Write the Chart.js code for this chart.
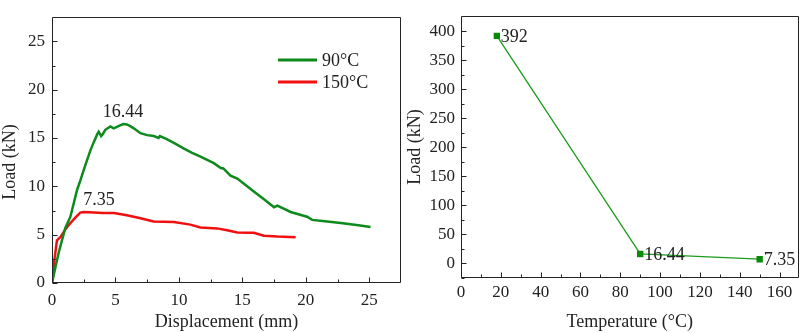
<!DOCTYPE html>
<html>
<head>
<meta charset="utf-8">
<script src="https://cdn.jsdelivr.net/npm/chart.js@4"></script>
<style>
  body { margin: 0; background: #fff; }
  #wrap { position: relative; width: 803px; height: 333px; }
  canvas { position: absolute; top: 0; }
</style>
</head>
<body>
<div id="wrap">
  <canvas id="loadDisp" width="403" height="333" style="left:0"></canvas>
  <canvas id="loadTemp" width="403" height="333" style="left:400px"></canvas>
</div>
<script>
// left panel: load vs displacement curves
const disp90 = [0, 0.3, 0.52, 1.05, 1.45, 1.97, 2.23, 2.6, 3.02, 3.3, 3.55, 3.68, 3.87, 4.0, 4.2, 4.6, 4.86, 5.2, 5.6, 5.9, 6.2, 6.44, 6.97, 7.5, 8.02, 8.4, 8.5, 9.0, 9.6, 10.4, 11.0, 11.7, 12.75, 13.3, 13.5, 14.07, 14.6, 15.1, 15.9, 16.7, 17.5, 17.76, 18.8, 20.1, 20.5, 21.5, 22.75, 24.0, 25.1];
const load90 = [0, 1.8, 3.1, 5.7, 6.86, 9.6, 10.6, 12.1, 13.7, 14.6, 15.35, 15.65, 15.2, 15.4, 15.85, 16.2, 16.0, 16.2, 16.44, 16.4, 16.2, 16.0, 15.5, 15.3, 15.2, 15.0, 15.2, 14.9, 14.5, 13.9, 13.5, 13.07, 12.4, 11.9, 11.85, 11.1, 10.8, 10.3, 9.47, 8.66, 7.84, 8.0, 7.35, 6.86, 6.53, 6.4, 6.2, 6.0, 5.8];

const disp150 = [0, 0.1, 0.2, 0.39, 0.66, 1.05, 1.45, 1.84, 2.23, 2.5, 3.3, 4.0, 4.87, 5.9, 6.97, 8.0, 9.6, 10.9, 11.7, 13.0, 13.8, 14.6, 15.4, 15.9, 16.7, 17.76, 19.2];
const load150 = [0, 1.2, 2.5, 4.4, 4.74, 5.55, 6.2, 6.76, 7.28, 7.35, 7.3, 7.25, 7.25, 7.0, 6.7, 6.37, 6.3, 6.04, 5.75, 5.65, 5.45, 5.22, 5.2, 5.2, 4.9, 4.8, 4.74];

const peakText = ['16.44', '7.35'];
const peakValue = [16.44, 7.35];
const peakLabelX = [5.6, 3.7];

const dispTicks = [0, 5, 10, 15, 20, 25];
const dispMinor = [2.5, 7.5, 12.5, 17.5, 22.5];
const loadTicks = [0, 5, 10, 15, 20, 25];
const loadMinor = [2.5, 7.5, 12.5, 17.5, 22.5];

// right panel: peak load vs temperature
const temps = [18, 90, 150];
const peakLoads = [392, 16.44, 7.35];
const tempTicks = [0, 20, 40, 60, 80, 100, 120, 140, 160];
const tempMinor = [10, 30, 50, 70, 90, 110, 130, 150];
const peakTicks = [0, 50, 100, 150, 200, 250, 300, 350, 400];
const peakMinor = [-25, 25, 75, 125, 175, 225, 275, 325, 375];

Chart.defaults.font.family = "'Liberation Serif', 'Times New Roman', serif";
Chart.defaults.color = '#222';

const tickFont = {size: 17};
const titleFont = {size: 18};

// box around the plot + inward tick marks
const frame = {
  id: 'frame',
  afterDatasetsDraw(chart, args, opts) {
    const {ctx, chartArea: a, scales} = chart;
    const L = Math.round(a.left) + 0.5, R = Math.round(a.right) - 0.5;
    const T = Math.round(a.top) + 0.5, B = Math.round(a.bottom) - 0.5;
    ctx.save();
    ctx.strokeStyle = '#222';
    ctx.lineWidth = 1;
    ctx.beginPath();
    ctx.rect(L, T, R - L, B - T);
    const xt = (v, len) => { const p = Math.round(scales.x.getPixelForValue(v)) + 0.5; ctx.moveTo(p, B); ctx.lineTo(p, B - len); };
    const yt = (v, len) => { const p = Math.round(scales.y.getPixelForValue(v)) + 0.5; ctx.moveTo(L, p); ctx.lineTo(L + len, p); };
    scales.x.ticks.forEach(t => xt(t.value, 5));
    scales.y.ticks.forEach(t => yt(t.value, 5));
    opts.xMinor.forEach(v => xt(v, 3));
    opts.yMinor.forEach(v => yt(v, 3));
    ctx.stroke();
    ctx.restore();
  }
};

// legend, peak labels and the y title of the left panel
const leftText = {
  id: 'leftText',
  afterDraw(chart) {
    const {ctx, scales: {x, y}} = chart;
    ctx.save();
    ctx.font = "18px 'Liberation Serif'";
    ctx.fillStyle = '#222';
    ctx.textAlign = 'center';
    ctx.textBaseline = 'alphabetic';
    peakText.forEach((t, i) => {
      ctx.fillText(t, x.getPixelForValue(peakLabelX[i]), y.getPixelForValue(peakValue[i]) - 7);
    });
    chart.data.datasets.forEach((ds, i) => {
      const ly = 60 + i * 22;
      ctx.strokeStyle = ds.borderColor;
      ctx.lineWidth = 3;
      ctx.beginPath();
      ctx.moveTo(278, ly);
      ctx.lineTo(317, ly);
      ctx.stroke();
      ctx.textAlign = 'left';
      ctx.textBaseline = 'middle';
      ctx.fillText(ds.label, 322, ly + 1);
    });
    ctx.translate(10, 162);
    ctx.rotate(-Math.PI / 2);
    ctx.textAlign = 'center';
    ctx.fillText('Load (kN)', 0, 0);
    ctx.restore();
  }
};

// value labels next to the markers of the right panel
const pointText = {
  id: 'pointText',
  afterDatasetsDraw(chart) {
    const {ctx} = chart;
    const meta = chart.getDatasetMeta(0);
    ctx.save();
    ctx.font = "18px 'Liberation Serif'";
    ctx.fillStyle = '#222';
    ctx.textAlign = 'left';
    ctx.textBaseline = 'middle';
    meta.data.forEach((pt, i) => {
      ctx.fillText(String(peakLoads[i]), pt.x + 4, pt.y + 1);
    });
    ctx.restore();
  }
};

new Chart(document.getElementById('loadDisp'), {
  type: 'scatter',
  data: {
    datasets: [
      {
        label: '90°C',
        data: disp90.map((d, i) => ({x: d, y: load90[i]})),
        showLine: true,
        borderColor: '#0c8a1c',
        borderWidth: 2.5,
        pointRadius: 0
      },
      {
        label: '150°C',
        data: disp150.map((d, i) => ({x: d, y: load150[i]})),
        showLine: true,
        borderColor: '#f01010',
        borderWidth: 2.5,
        pointRadius: 0
      }
    ]
  },
  options: {
    responsive: false,
    animation: false,
    layout: {padding: {top: 3, right: 2, left: 0, bottom: 0}},
    plugins: {
      legend: {display: false},
      tooltip: {enabled: false},
      frame: {xMinor: dispMinor, yMinor: loadMinor}
    },
    scales: {
      x: {
        type: 'linear', min: 0, max: 27.5,
        afterBuildTicks: s => { s.ticks = dispTicks.map(v => ({value: v})); },
        afterFit: s => { s.height = 50; },
        grid: {display: false, drawTicks: false},
        border: {display: false},
        ticks: {font: tickFont, padding: 7, maxRotation: 0},
        title: {display: true, text: 'Displacement (mm)', font: titleFont, padding: {top: 0, bottom: 0}}
      },
      y: {
        type: 'linear', min: 0, max: 27.5,
        afterBuildTicks: s => { s.ticks = loadTicks.map(v => ({value: v})); },
        afterFit: s => { s.width = 52; },
        grid: {display: false, drawTicks: false},
        border: {display: false},
        ticks: {font: tickFont, padding: 7}
      }
    }
  },
  plugins: [frame, leftText]
});

new Chart(document.getElementById('loadTemp'), {
  type: 'scatter',
  data: {
    datasets: [{
      label: 'Load',
      data: temps.map((t, i) => ({x: t, y: peakLoads[i]})),
      showLine: true,
      borderColor: '#1c9c1c',
      borderWidth: 1.3,
      pointStyle: 'rect',
      pointRadius: 4.5,
      pointBackgroundColor: '#0a8a0a',
      pointBorderWidth: 0
    }]
  },
  options: {
    responsive: false,
    animation: false,
    layout: {padding: {top: 4, right: 3, left: 0, bottom: 0}},
    plugins: {
      legend: {display: false},
      tooltip: {enabled: false},
      frame: {xMinor: tempMinor, yMinor: peakMinor}
    },
    scales: {
      x: {
        type: 'linear', min: 0, max: 169.5,
        afterBuildTicks: s => { s.ticks = tempTicks.map(v => ({value: v})); },
        afterFit: s => { s.height = 55; },
        grid: {display: false, drawTicks: false},
        border: {display: false},
        ticks: {font: tickFont, padding: 4, maxRotation: 0},
        title: {display: true, text: 'Temperature (°C)', font: titleFont, padding: {top: 0, bottom: 0}}
      },
      y: {
        type: 'linear', min: -25, max: 426,
        afterBuildTicks: s => { s.ticks = peakTicks.map(v => ({value: v})); },
        afterFit: s => { s.width = 61; },
        grid: {display: false, drawTicks: false},
        border: {display: false},
        ticks: {font: tickFont, padding: 6},
        title: {display: true, text: 'Load (kN)', font: titleFont, padding: {top: 4, bottom: 0}}
      }
    }
  },
  plugins: [frame, pointText]
});
</script>
</body>
</html>
